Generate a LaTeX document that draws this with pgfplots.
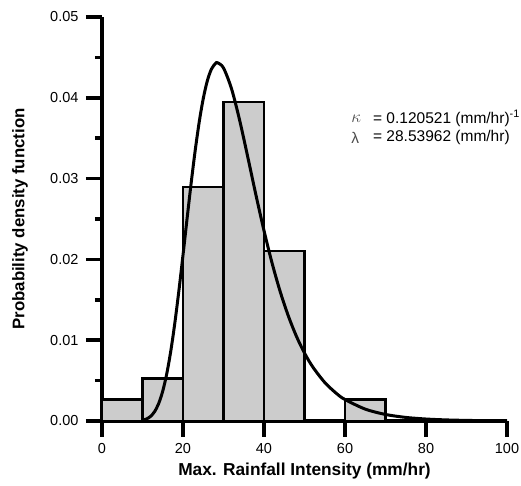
\documentclass[border=0pt]{standalone}
\usepackage{pgfplots}
\pgfplotsset{compat=1.18}
\usepackage{fontspec}
\setmainfont{Liberation Sans}
\begin{document}
\begin{tikzpicture}
\begin{axis}[
  name=ax,
  scale only axis,
  width=405pt, height=404pt,
  xmin=0, xmax=100, ymin=0, ymax=0.05,
  axis lines*=left,
  axis line style={line width=3.5pt, -},
  clip=false,
  tick align=outside,
  major tick length=16pt,
  minor tick length=7pt,
  every tick/.style={black, line width=3.5pt},
  xtick={0,20,40,60,80,100},
  ytick={0,0.01,0.02,0.03,0.04,0.05},
  minor ytick={0.005,0.015,0.025,0.035,0.045},
  minor xtick={},
  /pgf/number format/assume math mode=true,
  yticklabel style={/pgf/number format/fixed, /pgf/number format/fixed zerofill, /pgf/number format/precision=2, xshift=-4pt},
  scaled y ticks=false,
  ticklabel style={font=\fontsize{14.5}{16}\selectfont},
  xticklabel style={yshift=-3pt},
  xlabel={Max. Rainfall Intensity (mm/hr)},
  ylabel={Probability density function},
  every axis x label/.style={at={(axis description cs:0.5,-0.124)}, anchor=center, font=\fontsize{17.3}{19}\selectfont\bfseries},
  every axis y label/.style={at={(axis description cs:-0.2025,0.5)}, anchor=center, rotate=90, font=\fontsize{16.8}{19}\selectfont\bfseries},
]
\addplot[ybar interval, fill=black!20, draw=black, line width=2.8pt] coordinates {
  (0,0.00263) (10,0.00526) (20,0.02895) (30,0.03947) (40,0.02105) (50,0) (60,0.00263) (70,0.00263)
};
\addplot[black, line width=3pt, smooth] coordinates {
  (10,0.0000987) (11,0.000253) (12,0.000574) (13,0.001172) (14,0.002173) (15,0.003707)
  (16,0.00587) (17,0.008709) (18,0.01219) (19,0.016187) (20,0.02053) (21,0.025016)
  (22,0.02939) (23,0.03344) (24,0.03699) (25,0.0399) (26,0.04209) (27,0.04353)
  (28,0.04424) (28.54,0.044337) (30,0.04369) (32,0.04109) (34,0.03719) (36,0.03265)
  (38,0.02799) (40,0.02356) (42,0.01953) (44,0.01601) (46,0.01301) (48,0.01049)
  (50,0.00841) (52,0.00672) (55,0.00477) (58,0.00336) (60,0.00266) (65,0.00147)
  (70,0.000809) (75,0.000444) (80,0.000244) (85,0.0001335) (90,0.0000732)
  (95,0.00004) (100,0.0000219)
};
\draw[line width=3.5pt] (axis cs:0,0) -- ++(0,-16pt);
\node[anchor=west, font=\fontsize{16}{17}\selectfont, inner sep=0pt, text=black!70] at (axis cs:61.5,0.03745) {$\kappa$};
\node[anchor=west, font=\fontsize{15.5}{17}\selectfont, inner sep=0pt, text=black!70] at (axis cs:61.5,0.0351) {λ};
\node[anchor=west, font=\fontsize{15.5}{17}\selectfont, inner sep=0pt] at (axis cs:66.9,0.03745) {= 0.120521 (mm/hr)\textsuperscript{-1}};
\node[anchor=west, font=\fontsize{15.5}{17}\selectfont, inner sep=0pt] at (axis cs:66.9,0.0351) {= 28.53962 (mm/hr)};
\end{axis}
\pgfresetboundingbox
\path ([shift={(-102pt,-65pt)}]ax.south west) rectangle ([shift={(14pt,17pt)}]ax.north east);
\end{tikzpicture}
\end{document}
